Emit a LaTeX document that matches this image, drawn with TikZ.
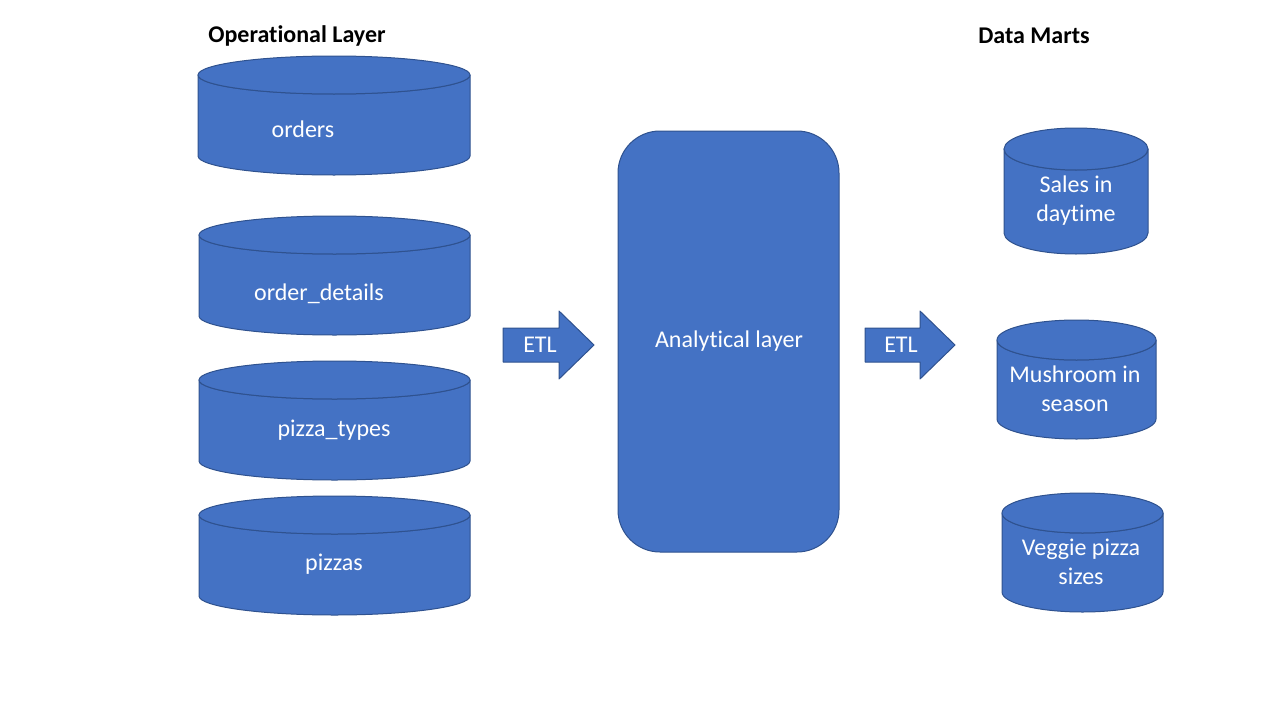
\documentclass[tikz,border=0pt]{standalone}
\usepackage{fontspec}
\setmainfont{Carlito}[Ligatures={NoCommon}]
\definecolor{fillblue}{HTML}{4472C4}
\definecolor{edgeblue}{HTML}{2F528F}
\tikzset{
  shapestyle/.style={fill=fillblue,draw=edgeblue,line width=1pt,line join=round},
  lbl/.style={text=white,font=\fontsize{24pt}{29pt}\selectfont,align=center,inner sep=0pt},
  title/.style={text=black,font=\fontsize{24pt}{29pt}\selectfont\bfseries,inner sep=0pt}
}
% #1 name, #2 x1, #3 x2, #4 y top-ellipse centre, #5 y bottom-ellipse centre, #6 ry, #7 text position, #8 text
\newcommand\dbcyl[8]{%
  \pgfmathsetmacro\cx{(#2+#3)/2}%
  \pgfmathsetmacro\rx{(#3-#2)/2}%
  \path[shapestyle] (#2,#4) -- (#2,#5) arc[start angle=180,end angle=0,x radius=\rx,y radius=#6] -- (#3,#4) arc[start angle=0,end angle=180,x radius=\rx,y radius=#6] -- cycle;
  \path[shapestyle] (\cx,#4) ellipse[x radius=\rx,y radius=#6];
  \node[lbl] (#1) at (#7) {#8};
}
% #1 name, #2 x left, #3 x neck, #4 x tip, #5 y centre, #6 text x
\newcommand\etlarrow[6]{%
  \path[shapestyle] (#2,#5-17) -- (#3,#5-17) -- (#3,#5-34) -- (#4,#5) -- (#3,#5+34) -- (#3,#5+17) -- (#2,#5+17) -- cycle;
  \node[lbl] (#1) at (#6,#5) {ETL};
}
\begin{document}
\begin{tikzpicture}[x=1pt,y=-1pt]
\useasboundingbox (0,0) rectangle (1280,720);
\node[title] (optitle) at (297,36) {Operational Layer};
\node[title] (dmtitle) at (1034,36) {Data Marts};

\dbcyl{orders}{198}{470}{75}{156}{19}{303,129}{orders}
\dbcyl{details}{199}{470}{235}{316}{19}{319,294}{order\_details}
\dbcyl{types}{199}{470}{380}{461}{19}{334,430}{pizza\_types}
\dbcyl{pizzas}{199}{470}{515}{596}{19}{334,564}{pizzas}

\etlarrow{etlone}{503}{559}{594}{345}{540}
\path[shapestyle,rounded corners=42pt] (618,131) rectangle (839,552);
\node[lbl] (analytical) at (729,341) {Analytical layer};
\etlarrow{etltwo}{865}{920}{955}{345}{901}

\dbcyl{sales}{1004}{1148}{149}{233}{21}{1076,201}{Sales in\\daytime}
\dbcyl{mushroom}{997}{1156}{340}{419}{20}{1075,389}{Mushroom in\\season}
\dbcyl{veggie}{1002}{1163}{513}{592}{20}{1081,562}{Veggie pizza\\sizes}
\end{tikzpicture}
\end{document}
